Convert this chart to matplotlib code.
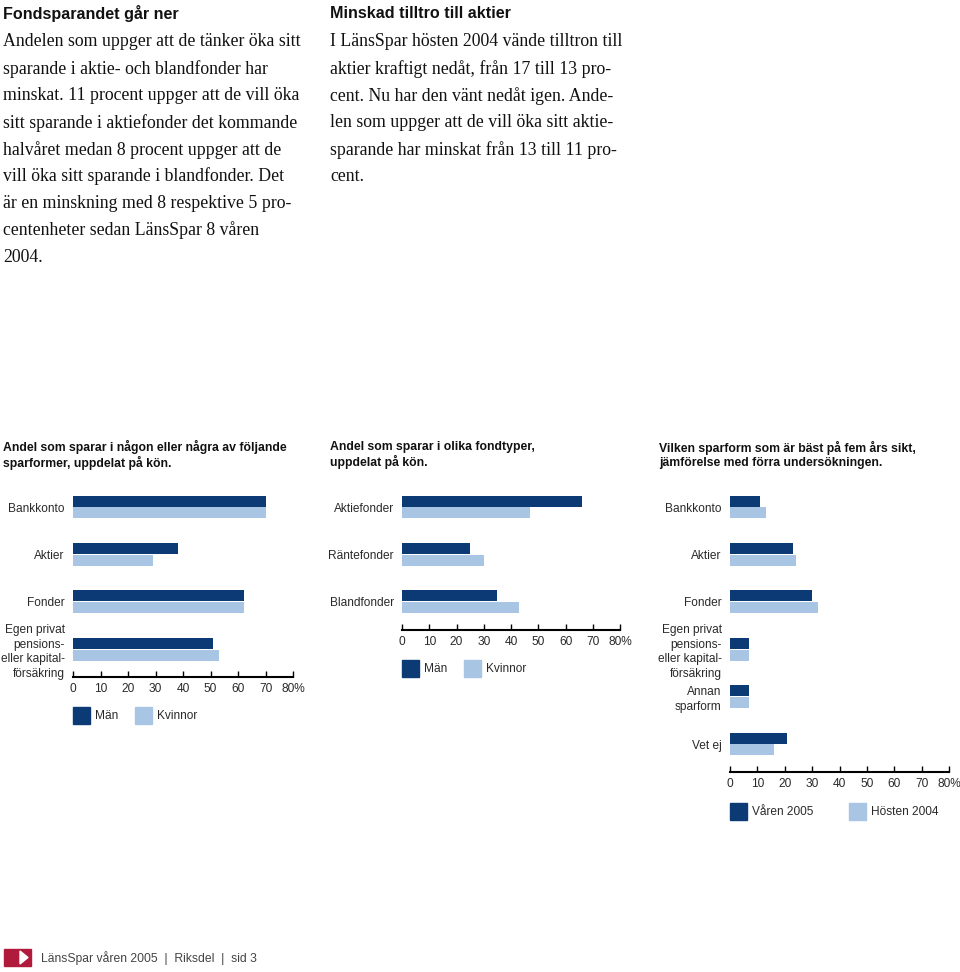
import numpy as np
import matplotlib
matplotlib.use("Agg")
import matplotlib.pyplot as plt
from matplotlib.patches import Rectangle, Polygon

# chart 1: savings forms by gender
forms = ["Bankkonto", "Aktier", "Fonder", "Egen privat\npensions-\neller kapital-\nförsäkring"]
forms_men = [70, 38, 62, 51]
forms_women = [70, 29, 62, 53]

# chart 2: fund types by gender
funds = ["Aktiefonder", "Räntefonder", "Blandfonder"]
funds_men = [66, 25, 35]
funds_women = [47, 30, 43]

# chart 3: best savings form in five years
best = ["Bankkonto", "Aktier", "Fonder", "Egen privat\npensions-\neller kapital-\nförsäkring",
        "Annan\nsparform", "Vet ej"]
best_spring05 = [11, 23, 30, 7, 7, 21]
best_autumn04 = [13, 24, 32, 7, 7, 16]

xticks = [0, 10, 20, 30, 40, 50, 60, 70, 80]
xtick_labels = ["0", "10", "20", "30", "40", "50", "60", "70", "80%"]

DARK = "#0b3a75"
LIGHT = "#a8c5e3"
RED = "#b01a3b"
TXT = "#2a2a2a"

SANS = ["Liberation Sans", "DejaVu Sans"]
SERIF = ["Liberation Serif", "DejaVu Serif"]
LABEL_SIZE = 8.6

W, H = 960, 972
fig = plt.figure(figsize=(W / 100, H / 100), dpi=100)


def t(x, y, s, **kw):
    kw.setdefault("va", "center")
    return fig.text(x / W, 1 - y / H, s, **kw)


def px_axes(x0, y0, x1, y1):
    return fig.add_axes([x0 / W, 1 - y1 / H, (x1 - x0) / W, (y1 - y0) / H])


def bar_chart(x0, x1, axis_y, cats, a, b, first_c=507, spacing=47.4):
    ax = px_axes(x0, first_c - spacing / 2, x1, axis_y)
    y = np.arange(len(cats))
    ax.barh(y - 0.125, a, height=0.235, color=DARK)
    ax.barh(y + 0.125, b, height=0.235, color=LIGHT)
    ax.set_xlim(0, 80)
    ax.set_ylim((axis_y - first_c) / spacing, -0.5)
    for s in ["top", "right", "left"]:
        ax.spines[s].set_visible(False)
    ax.spines["bottom"].set_linewidth(1.5)
    ax.set_xticks(xticks, xtick_labels)
    ax.set_yticks(y, cats)
    ax.tick_params(axis="x", direction="in", length=4, width=1, pad=4,
                   labelsize=LABEL_SIZE, labelcolor=TXT)
    ax.tick_params(axis="y", length=0, pad=6, labelsize=LABEL_SIZE, labelcolor=TXT)
    for lab in ax.get_xticklabels() + ax.get_yticklabels():
        lab.set_family(SANS)
        lab.set_linespacing(1.3)
    ax.patch.set_alpha(0)
    return ax


def legend(y, items):
    for lx, name, color in items:
        fig.patches.append(Rectangle((lx / W, 1 - (y + 17) / H), 17 / W, 17 / H,
                                     transform=fig.transFigure, color=color))
        t(lx + 22, y + 9, name, fontsize=LABEL_SIZE, family=SANS, color=TXT)


# text columns
col1 = [
    "Andelen som uppger att de tänker öka sitt",
    "sparande i aktie- och blandfonder har",
    "minskat. 11 procent uppger att de vill öka",
    "sitt sparande i aktiefonder det kommande",
    "halvåret medan 8 procent uppger att de",
    "vill öka sitt sparande i blandfonder. Det",
    "är en minskning med 8 respektive 5 pro-",
    "centenheter sedan LänsSpar 8 våren",
    "2004.",
]
col2 = [
    "I LänsSpar hösten 2004 vände tilltron till",
    "aktier kraftigt nedåt, från 17 till 13 pro-",
    "cent. Nu har den vänt nedåt igen. Ande-",
    "len som uppger att de vill öka sitt aktie-",
    "sparande har minskat från 13 till 11 pro-",
    "cent.",
]
t(3, 13, "Fondsparandet går ner", fontsize=11.6, weight="bold", family=SANS, color="#111")
t(330, 13, "Minskad tilltro till aktier", fontsize=11.6, weight="bold", family=SANS, color="#111")
for i, line in enumerate(col1):
    t(3, 42 + i * 26.9, line, fontsize=12.8, family=SERIF, color="#111")
for i, line in enumerate(col2):
    t(330, 42 + i * 26.9, line, fontsize=12.8, family=SERIF, color="#111")

# chart titles
titles = [
    (3, "Andel som sparar i någon eller några av följande\nsparformer, uppdelat på kön."),
    (330, "Andel som sparar i olika fondtyper,\nuppdelat på kön."),
    (659, "Vilken sparform som är bäst på fem års sikt,\njämförelse med förra undersökningen."),
]
for x, s in titles:
    t(x, 455, s, fontsize=8.85, weight="bold", family=SANS, color="#111", linespacing=1.15)

bar_chart(73, 293, 677, forms, forms_men, forms_women)
bar_chart(402, 620, 630, funds, funds_men, funds_women)
bar_chart(730, 949, 772, best, best_spring05, best_autumn04)

legend(707, [(73, "Män", DARK), (135, "Kvinnor", LIGHT)])
legend(660, [(402, "Män", DARK), (464, "Kvinnor", LIGHT)])
legend(803, [(730, "Våren 2005", DARK), (849, "Hösten 2004", LIGHT)])

# footer
fig.patches.append(Rectangle((4 / W, 1 - 966 / H), 27 / W, 17 / H,
                             transform=fig.transFigure, color=RED))
fig.patches.append(Polygon([(20 / W, 1 - 951 / H), (20 / W, 1 - 964 / H), (28 / W, 1 - 957.5 / H)],
                           closed=True, transform=fig.transFigure, color="white"))
t(41, 958, "LänsSpar våren 2005  |  Riksdel  |  sid 3", fontsize=8.7, family=SANS, color="#444")

fig.savefig("out.png", dpi=100)
